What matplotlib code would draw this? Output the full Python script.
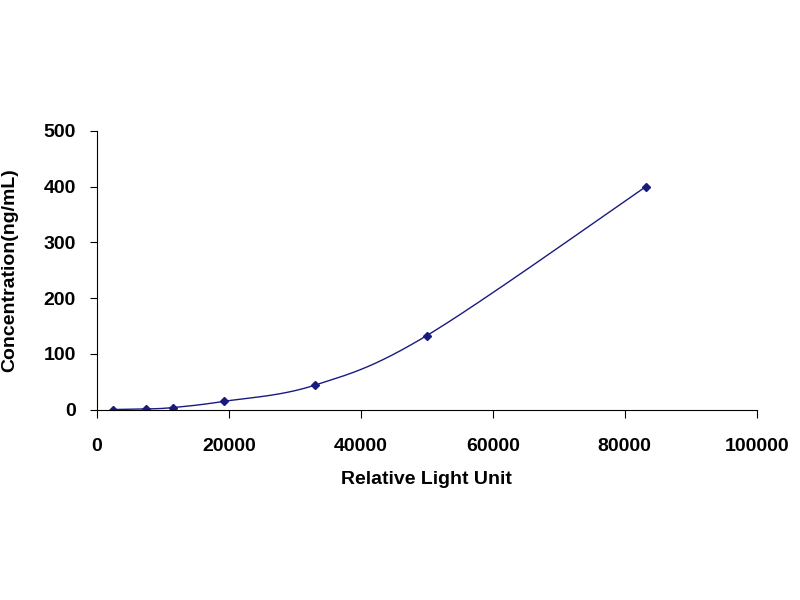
import numpy as np
import matplotlib
matplotlib.use("Agg")
import matplotlib.pyplot as plt

rlu = [2500, 7500, 11500, 19200, 33000, 50000, 83200]
conc = [0.5, 1.5, 4, 15, 44, 133, 400]
xticks = [0, 20000, 40000, 60000, 80000, 100000]
yticks = [0, 100, 200, 300, 400, 500]

plt.rcParams['font.family'] = ['Liberation Sans', 'DejaVu Sans']
fig = plt.figure(figsize=(8, 6), dpi=100)
ax = fig.add_axes([0.121, 0.317, 0.825, 0.465])

x = np.array(rlu, float); y = np.array(conc, float)
xs, ys = [], []
for i in range(len(x) - 1):
    p0 = i - 1 if i > 0 else i
    p3 = i + 2 if i + 2 < len(x) else i + 1
    t = np.linspace(0, 1, 30)
    for arr, out in ((x, xs), (y, ys)):
        P0, P1, P2, P3 = arr[p0], arr[i], arr[i + 1], arr[p3]
        out.extend(0.5 * ((2 * P1) + (-P0 + P2) * t + (2 * P0 - 5 * P1 + 4 * P2 - P3) * t**2
                          + (-P0 + 3 * P1 - 3 * P2 + P3) * t**3))
c = '#1a1a80'
ax.plot(xs, ys, color=c, lw=1)
ax.plot(rlu, conc, 'D', color=c, ms=4)

ax.set_xlim(0, 100000); ax.set_ylim(0, 500)
ax.set_xticks(xticks); ax.set_yticks(yticks)
ax.set_xticklabels([str(v) for v in xticks], fontsize=14, fontweight='bold')
ax.set_yticklabels([str(v) for v in yticks], fontsize=14, fontweight='bold')
ax.spines['top'].set_visible(False); ax.spines['right'].set_visible(False)
ax.tick_params(axis='x', direction='out', length=6, pad=14)
ax.tick_params(axis='y', direction='out', length=5, pad=10)
ax.set_xlabel('Relative Light Unit', fontsize=14, fontweight='bold', labelpad=12)
ax.set_ylabel('Concentration(ng/mL)', fontsize=14, fontweight='bold', labelpad=18)
fig.savefig('out.png')
